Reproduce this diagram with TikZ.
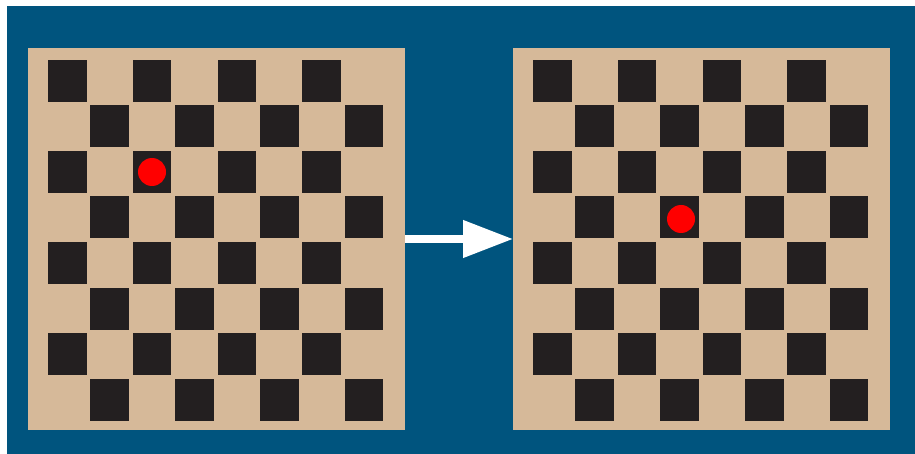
\documentclass[tikz,border=0pt]{standalone}
\usetikzlibrary{arrows.meta}
\definecolor{bgblue}{RGB}{0,84,126}
\definecolor{tan}{RGB}{214,185,153}
\definecolor{sqdark}{RGB}{35,31,32}
\definecolor{dotred}{RGB}{255,0,0}
\tikzset{
  board/.style={fill=tan, draw=none, minimum width=377pt, minimum height=382pt, inner sep=0pt, outer sep=0pt},
  sq/.style={fill=sqdark},
  dot/.style={circle, fill=dotred, minimum size=28pt, inner sep=0pt},
  movearrow/.style={white, line width=7.5pt, -{Triangle[length=50pt, width=36pt]}}
}
\begin{document}
\begin{tikzpicture}[x=1pt, y=-1pt]
\useasboundingbox (0,0) rectangle (915,454);
\fill[white] (0,0) rectangle (915,454);
\fill[bgblue] (7,6) rectangle (915,454);
\node[board, anchor=north west] (L) at (28,48) {};
\node[board, anchor=north west] (R) at (513,48) {};
\foreach \ox in {48,533}{
  \foreach \r in {0,...,7}{
    \foreach \c in {0,...,7}{
      \pgfmathtruncatemacro{\parity}{mod(\r+\c,2)}
      \ifnum\parity=0
        \fill[sq] ({\ox+\c*42.4},{60+\r*45.5}) rectangle ++(38.5,42);
      \fi
    }
  }
}
\node[dot] (d1) at (152,172) {};
\node[dot] (d2) at (681,219) {};
\draw[movearrow] (L.east) -- (R.west);
\end{tikzpicture}
\end{document}
